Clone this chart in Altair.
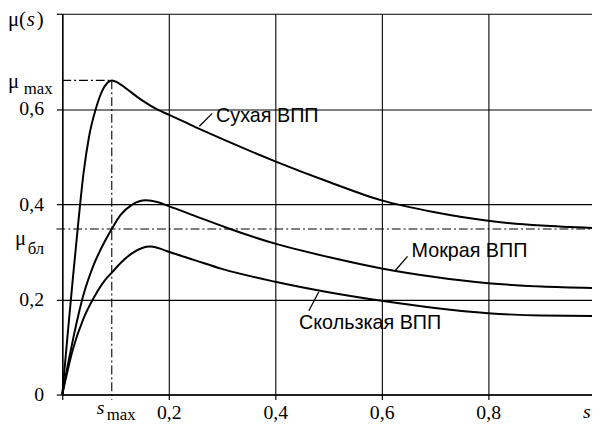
import altair as alt
import pandas as pd

# ---- curve data (slip s, friction mu) ----
s_dry = [0, 0.01, 0.02, 0.03, 0.04, 0.05, 0.063, 0.075, 0.085, 0.093, 0.105, 0.12, 0.15, 0.18, 0.2, 0.25, 0.3, 0.4, 0.5, 0.6, 0.7, 0.8, 0.9, 0.995]
mu_dry = [0, 0.125, 0.245, 0.36, 0.465, 0.54, 0.60, 0.638, 0.655, 0.66, 0.655, 0.643, 0.618, 0.598, 0.588, 0.562, 0.537, 0.49, 0.447, 0.408, 0.383, 0.365, 0.355, 0.35]

s_wet = [0, 0.01, 0.02, 0.04, 0.06, 0.08, 0.093, 0.11, 0.13, 0.157, 0.18, 0.2, 0.25, 0.31, 0.4, 0.5, 0.6, 0.7, 0.8, 0.9, 0.995]
mu_wet = [0, 0.06, 0.115, 0.21, 0.275, 0.322, 0.348, 0.378, 0.398, 0.408, 0.404, 0.396, 0.375, 0.35, 0.317, 0.289, 0.265, 0.247, 0.234, 0.227, 0.224]

s_slip = [0, 0.01, 0.02, 0.04, 0.06, 0.08, 0.093, 0.11, 0.13, 0.15, 0.165, 0.18, 0.2, 0.25, 0.3, 0.4, 0.5, 0.6, 0.7, 0.8, 0.9, 0.995]
mu_slip = [0, 0.05, 0.095, 0.16, 0.205, 0.24, 0.256, 0.277, 0.296, 0.308, 0.311, 0.308, 0.30, 0.282, 0.264, 0.237, 0.215, 0.197, 0.182, 0.171, 0.166, 0.165]

s_max = 0.093
mu_max = 0.66
mu_bl = 0.348

x_ticks = [0, 0.2, 0.4, 0.6, 0.8]
y_ticks = [0, 0.2, 0.4, 0.6, 0.8]

# curve labels
label_text = ["Сухая ВПП", "Мокрая ВПП", "Скользкая ВПП"]
label_x = [0.289, 0.656, 0.4447]
label_y = [0.5845, 0.3005, 0.1492]
# leader lines
lead_x1 = [0.2576, 0.6244, 0.4817]
lead_y1 = [0.5637, 0.2591, 0.2155]
lead_x2 = [0.2816, 0.6485, 0.4632]
lead_y2 = [0.5907, 0.2902, 0.1762]

# math annotation texts (upright serif)
up_text = ["μ(", ")", "μ", "max", "μ", "бл", "max"]
up_x = [-0.1019, -0.048, -0.1019, -0.0723, -0.0889, -0.0649, 0.0834]
up_y = [0.775, 0.775, 0.6446, 0.6321, 0.315, 0.2943, -0.0539]
up_size = [21, 21, 21, 17, 21, 17, 17]
# italic serif texts
it_text = ["s", "s", "s"]
it_x = [-0.0667, 0.0649, 0.978]
it_y = [0.775, -0.0415, -0.0497]
it_size = [21, 20, 20]

# ---- frames ----
curves = pd.concat([
    pd.DataFrame({"s": s_dry, "mu": mu_dry, "series": "dry"}),
    pd.DataFrame({"s": s_wet, "mu": mu_wet, "series": "wet"}),
    pd.DataFrame({"s": s_slip, "mu": mu_slip, "series": "slip"}),
])

dash_df = pd.DataFrame({
    "s": [0, s_max, -0.011],
    "s2": [s_max, s_max, 0.995],
    "mu": [mu_max, mu_max, mu_bl],
    "mu2": [mu_max, -0.011, mu_bl],
})
lead_df = pd.DataFrame({"s": lead_x1, "s2": lead_x2, "mu": lead_y1, "mu2": lead_y2})
lab_df = pd.DataFrame({"t": label_text, "s": label_x, "mu": label_y})
up_df = pd.DataFrame({"t": up_text, "s": up_x, "mu": up_y, "sz": up_size})
it_df = pd.DataFrame({"t": it_text, "s": it_x, "mu": it_y, "sz": it_size})

xs = alt.Scale(domain=[0, 0.995], nice=False, zero=False)
ys = alt.Scale(domain=[0, 0.8], nice=False, zero=False)

x_axis = alt.Axis(
    values=x_ticks, grid=True, gridColor="black", gridWidth=1.1, gridOpacity=1,
    domainColor="black", domainWidth=1.5, tickColor="black", tickSize=5, tickWidth=1.2,
    labelFont="Liberation Serif", labelFontSize=20, labelColor="black", labelPadding=3,
    labelFlush=False, labelOverlap=False, title=None,
    labelExpr="datum.value == 0 ? '' : replace(format(datum.value, '.1f'), '.', ',')",
)
y_axis = alt.Axis(
    values=y_ticks, grid=True, gridColor="black", gridWidth=1.1, gridOpacity=1,
    domainColor="black", domainWidth=1.5, tickColor="black", tickSize=6, tickWidth=1.2,
    labelFont="Liberation Serif", labelFontSize=20, labelColor="black", labelPadding=13,
    labelOverlap=False, title=None,
    labelExpr="datum.value == 0 ? '0' : (datum.value > 0.7 ? '' : replace(format(datum.value, '.1f'), '.', ','))",
)

X = alt.X("s:Q", scale=xs, axis=x_axis, title=None)
Y = alt.Y("mu:Q", scale=ys, axis=y_axis, title=None)

lines = alt.Chart(curves).mark_line(interpolate="monotone", color="black", strokeWidth=2).encode(
    x=X, y=Y, detail="series:N",
)

dashes = alt.Chart(dash_df).mark_rule(color="black", strokeWidth=1.1, strokeDash=[9, 3, 2, 3]).encode(
    x=X, x2="s2:Q", y=Y, y2="mu2:Q",
)

leaders = alt.Chart(lead_df).mark_rule(color="black", strokeWidth=1.3).encode(
    x=X, x2="s2:Q", y=Y, y2="mu2:Q",
)

labels = alt.Chart(lab_df).mark_text(
    align="left", baseline="middle", font="Liberation Sans", fontSize=20, color="black"
).encode(x=X, y=Y, text="t:N")

up_texts = alt.Chart(up_df).mark_text(
    align="left", baseline="alphabetic", font="Liberation Serif", color="black"
).encode(
    x=X, y=Y, text="t:N",
    size=alt.Size("sz:Q", scale=None, legend=None),
)

it_texts = alt.Chart(it_df).mark_text(
    align="left", baseline="alphabetic", font="Liberation Serif", fontStyle="italic", color="black"
).encode(
    x=X, y=Y, text="t:N",
    size=alt.Size("sz:Q", scale=None, legend=None),
)

chart = alt.layer(lines, dashes, leaders, labels, up_texts, it_texts).properties(
    width=537, height=386,
    autosize=alt.AutoSizeParams(type="none"),
    padding={"left": 55, "top": 3, "right": 0, "bottom": 28},
    background="white",
).configure_view(stroke=None)

chart.save("out.html", embed_options={"renderer": "svg", "actions": False})
